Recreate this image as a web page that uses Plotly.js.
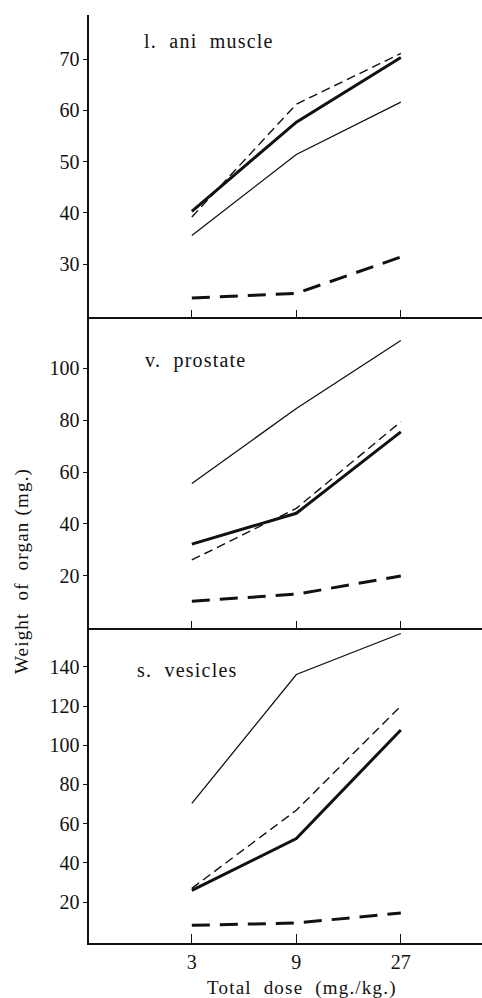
<!DOCTYPE html>
<html>
<head>
<meta charset="utf-8">
<script src="https://cdn.plot.ly/plotly-3.0.1.min.js"></script>
<style>
html,body{margin:0;padding:0;background:#fff;}
#chart{width:482px;height:998px;}
.annotation-text{letter-spacing:1.2px;}
</style>
</head>
<body>
<div id="chart"></div>
<script>
var doses = [3, 9, 27];
var doseTickText = ['3', '9', '27'];

var aniThin = [35.6, 51.4, 61.6];
var aniThick = [40.3, 57.7, 70.3];
var aniThinDash = [39.2, 61.2, 71.1];
var aniThickDash = [23.4, 24.3, 31.4];

var proThin = [55.6, 84.5, 110.7];
var proThick = [32.2, 44.1, 75.5];
var proThinDash = [26.1, 46.0, 79.4];
var proThickDash = [10.2, 12.9, 19.9];

var vesThin = [70.3, 136.1, 157.0];
var vesThick = [25.9, 52.4, 107.8];
var vesThinDash = [27.0, 66.8, 120.0];
var vesThickDash = [8.1, 9.3, 14.4];

var panelTitles = ['l.  ani  muscle', 'v.  prostate', 's.  vesicles'];
var yTicks1 = [30, 40, 50, 60, 70];
var yTicks2 = [20, 40, 60, 80, 100];
var yTicks3 = [20, 40, 60, 80, 100, 120, 140];

var styles = {
  thin: {color: '#111', width: 1.3, dash: 'solid'},
  thick: {color: '#111', width: 3, dash: 'solid'},
  thinDash: {color: '#111', width: 1.4, dash: '9px,5px'},
  thickDash: {color: '#111', width: 3, dash: '18px,10px'}
};

function tr(y, st, ax) {
  return {x: doses, y: y, mode: 'lines', line: styles[st], xaxis: 'x' + ax, yaxis: 'y' + ax, hoverinfo: 'skip'};
}
var data = [
  tr(aniThin, 'thin', ''), tr(aniThick, 'thick', ''), tr(aniThinDash, 'thinDash', ''), tr(aniThickDash, 'thickDash', ''),
  tr(proThin, 'thin', '2'), tr(proThick, 'thick', '2'), tr(proThinDash, 'thinDash', '2'), tr(proThickDash, 'thickDash', '2'),
  tr(vesThin, 'thin', '3'), tr(vesThick, 'thick', '3'), tr(vesThinDash, 'thinDash', '3'), tr(vesThickDash, 'thickDash', '3')
];

var F = 'Liberation Serif';
function xax(anchor, labels) {
  return {
    type: 'log', range: [0.0075, 1.802], anchor: anchor, domain: [0, 1],
    showline: true, linecolor: '#111', linewidth: 1.6, showgrid: false, zeroline: false,
    tickmode: 'array', tickvals: doses, ticktext: doseTickText, showticklabels: labels,
    ticks: 'inside', ticklen: labels ? 9 : 7, tickwidth: 1.2, tickcolor: '#111',
    tickfont: {family: F, size: 20, color: '#111'}, fixedrange: true
  };
}
function yax(anchor, dom, rng, tv) {
  return {
    anchor: anchor, domain: dom, range: rng, showline: true, linecolor: '#111', linewidth: 1.6,
    showgrid: false, zeroline: false, tickmode: 'array', tickvals: tv,
    ticks: 'outside', ticklen: 4, tickwidth: 1, tickcolor: '#111',
    tickfont: {family: F, size: 20, color: '#111'}, fixedrange: true
  };
}

var layout = {
  width: 482, height: 998,
  margin: {l: 89, r: 0, t: 15, b: 55},
  paper_bgcolor: '#fff', plot_bgcolor: '#fff',
  font: {family: F, color: '#111'},
  showlegend: false, hovermode: false,
  xaxis: xax('y', false),
  xaxis2: xax('y2', false),
  xaxis3: xax('y3', true),
  yaxis: yax('x', [0.6746, 1], [19.7, 78.6], yTicks1),
  yaxis2: yax('x2', [0.339, 0.6746], [-0.3, 119.8], yTicks2),
  yaxis3: yax('x3', [0, 0.339], [-0.9, 159.6], yTicks3),
  annotations: [
    {text: panelTitles[0], xref: 'paper', yref: 'paper', x: 0.135, y: 0.972, xanchor: 'left', yanchor: 'middle', showarrow: false, font: {family: F, size: 20, color: '#111'}},
    {text: panelTitles[1], xref: 'paper', yref: 'paper', x: 0.137, y: 0.628, xanchor: 'left', yanchor: 'middle', showarrow: false, font: {family: F, size: 20, color: '#111'}},
    {text: panelTitles[2], xref: 'paper', yref: 'paper', x: 0.117, y: 0.294, xanchor: 'left', yanchor: 'middle', showarrow: false, font: {family: F, size: 20, color: '#111'}},
    {text: 'Weight  of  organ (mg.)', xref: 'paper', yref: 'paper', x: -0.170, y: 0.401, xanchor: 'center', yanchor: 'middle', textangle: -90, showarrow: false, font: {family: F, size: 19, color: '#111'}},
    {text: 'Total  dose  (mg./kg.)', xref: 'paper', yref: 'paper', x: 0.542, y: -0.0485, xanchor: 'center', yanchor: 'middle', showarrow: false, font: {family: F, size: 19, color: '#111'}}
  ]
};

Plotly.newPlot('chart', data, layout, {staticPlot: true, displayModeBar: false});
</script>
</body>
</html>
